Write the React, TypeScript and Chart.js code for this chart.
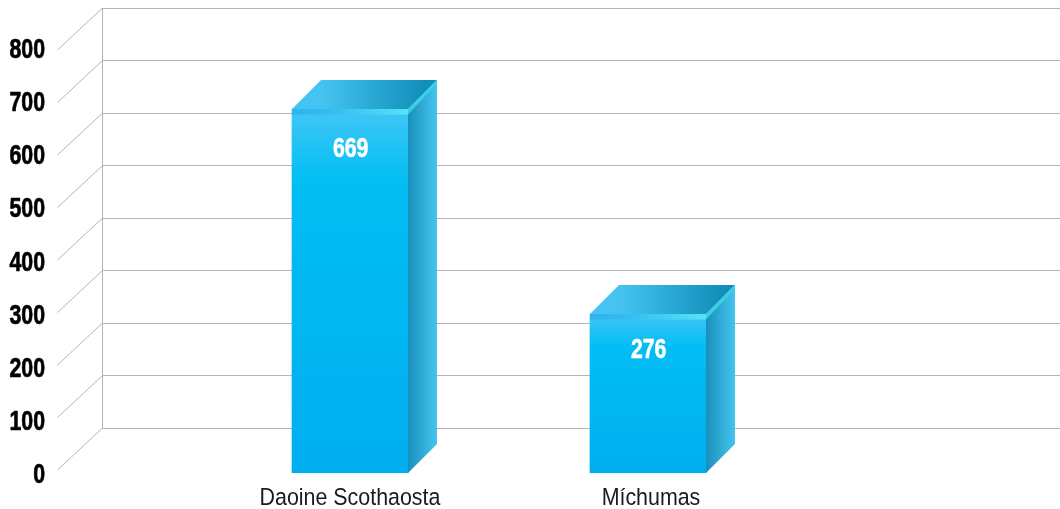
import React, { useEffect, useRef } from "react";
import { Chart, registerables } from "chart.js";

Chart.register(...registerables);

const categories = ["Daoine Scothaosta", "Míchumas"];
const values = [669, 276];
const tickValues = [0, 100, 200, 300, 400, 500, 600, 700, 800];
const labelOffsets = [37.7, 33.7];
const categoryTickPositions = [0, 1.01];
const barBaseValue = -28.76;
const depthX = 29;
const depthY = 29;
const wallX = 45;
const wallY = 42;
const stripHeight = 5.5;
const FONT = "'Liberation Sans'";

const hGrad = (ctx: CanvasRenderingContext2D, x0: number, x1: number, stops: [number, string][]) => {
  const g = ctx.createLinearGradient(x0, 0, x1, 0);
  stops.forEach(([o, c]) => g.addColorStop(o, c));
  return g;
};

// Condensed text: the reference face is narrow, and no narrow family is installed.
const narrowText = (
  ctx: CanvasRenderingContext2D,
  text: string,
  x: number,
  y: number,
  font: string,
  sx: number,
  align: CanvasTextAlign,
  color: string,
  heavy = 0
) => {
  ctx.save();
  ctx.translate(x, y);
  ctx.scale(sx, 1);
  ctx.font = font;
  ctx.textAlign = align;
  ctx.textBaseline = "alphabetic";
  ctx.fillStyle = color;
  if (heavy > 0) {
    ctx.strokeStyle = color;
    ctx.lineWidth = heavy;
    ctx.lineJoin = "round";
    ctx.strokeText(text, 0, 0);
  }
  ctx.fillText(text, 0, 0);
  ctx.restore();
};

const decorPlugin = {
  id: "decor",
  beforeDatasetsDraw(chart: any) {
    const { ctx, scales } = chart;
    const back = scales.yBack;
    const left = chart.chartArea.left;
    ctx.save();
    ctx.strokeStyle = "#b4b4b4";
    ctx.lineWidth = 1;
    ctx.beginPath();
    ctx.moveTo(left + 0.5, back.getPixelForValue(800));
    ctx.lineTo(left + 0.5, back.getPixelForValue(0));
    ctx.stroke();
    tickValues.forEach((v) => {
      const y = back.getPixelForValue(v);
      ctx.beginPath();
      ctx.moveTo(left + 0.5, y);
      ctx.lineTo(left + 0.5 - wallX, y + wallY);
      ctx.stroke();
    });
    ctx.restore();
    // Axis labels, positioned by the library's own scales
    scales.y.ticks.forEach((t: any) => {
      narrowText(ctx, String(t.value), 45, scales.y.getPixelForValue(t.value) + 10, `bold 27.5px ${FONT}`, 0.775, "right", "#000000", 0.7);
    });
    scales.x.ticks.forEach((t: any, i: number) => {
      narrowText(ctx, categories[i], scales.x.getPixelForValue(t.value), 505, `24.5px ${FONT}`, 0.873, "center", "#1a1a1a");
    });
  },
  afterDatasetsDraw(chart: any) {
    const { ctx } = chart;
    const meta = chart.getDatasetMeta(0);
    meta.data.forEach((bar: any, i: number) => {
      const l = bar.x - bar.width / 2;
      const r = bar.x + bar.width / 2;
      const t = bar.y;
      const b = bar.base;
      ctx.save();
      // top face
      ctx.fillStyle = hGrad(ctx, l + 30, r + depthX, [
        [0, "#45c4f1"],
        [0.85, "#1390bc"],
        [1, "#0f8db9"],
      ]);
      ctx.beginPath();
      ctx.moveTo(l, t);
      ctx.lineTo(l + depthX, t - depthY);
      ctx.lineTo(r + depthX, t - depthY);
      ctx.lineTo(r, t);
      ctx.closePath();
      ctx.fill();
      // side face
      ctx.fillStyle = hGrad(ctx, r, r + depthX, [
        [0, "#1990bb"],
        [1, "#45c4f0"],
      ]);
      ctx.beginPath();
      ctx.moveTo(r, t);
      ctx.lineTo(r + depthX, t - depthY);
      ctx.lineTo(r + depthX, b - depthY);
      ctx.lineTo(r, b);
      ctx.closePath();
      ctx.fill();
      // top-right edge highlight
      ctx.fillStyle = "#38cfe4";
      ctx.beginPath();
      ctx.moveTo(r, t);
      ctx.lineTo(r + depthX, t - depthY);
      ctx.lineTo(r + depthX, t - depthY + 4);
      ctx.lineTo(r, t + stripHeight);
      ctx.closePath();
      ctx.fill();
      // front strip
      ctx.fillStyle = hGrad(ctx, l, r, [
        [0, "#2fb2ee"],
        [0.35, "#35bdf0"],
        [1, "#55e3f8"],
      ]);
      ctx.fillRect(l, t, r - l, stripHeight);
      // value label
      narrowText(ctx, String(values[i]), bar.x + 0.7, t + labelOffsets[i] + 10, `bold 27.5px ${FONT}`, 0.775, "center", "#ffffff", 0.5);
      ctx.restore();
    });
  },
};

export default function App() {
  const ref = useRef<HTMLCanvasElement>(null);
  useEffect(() => {
    const canvas = ref.current!;
    const chart = new Chart(canvas, {
      type: "bar",
      data: {
        datasets: [
          {
            data: values.map((v, i) => ({ x: i, y: v })),
            yAxisID: "yBar",
            base: barBaseValue,
            barThickness: 116,
            borderWidth: 0,
            backgroundColor: (c: any) => {
              const ch = c.chart;
              if (!ch.chartArea || c.dataIndex === undefined) return "#00aeef";
              const s = ch.scales.yBar;
              const top = s.getPixelForValue(values[c.dataIndex]);
              const bot = s.getPixelForValue(barBaseValue);
              const g = ch.ctx.createLinearGradient(0, top, 0, bot);
              g.addColorStop(0, "#41c7f6");
              g.addColorStop(0.2, "#02bef3");
              g.addColorStop(1, "#00aeef");
              return g;
            },
          } as any,
        ],
      },
      plugins: [decorPlugin],
      options: {
        animation: false,
        responsive: false,
        maintainAspectRatio: false,
        layout: { padding: { top: 8, left: 0, right: 0, bottom: 0 } },
        plugins: { legend: { display: false }, tooltip: { enabled: false } },
        scales: {
          x: {
            type: "linear",
            min: -0.8322,
            max: 2.3826,
            offset: false,
            grid: { display: false, drawTicks: false },
            border: { display: false },
            afterBuildTicks: (a: any) => {
              a.ticks = categoryTickPositions.map((value) => ({ value }));
            },
            afterFit: (a: any) => {
              a.height = 36;
              a.paddingLeft = 0;
              a.paddingRight = 0;
            },
            ticks: { display: false },
          },
          y: {
            position: "left",
            min: 0,
            max: 875.3,
            grid: { display: false, drawTicks: false },
            border: { display: false },
            afterBuildTicks: (a: any) => {
              a.ticks = tickValues.map((value) => ({ value }));
            },
            afterFit: (a: any) => {
              a.width = 102;
              a.paddingTop = 0;
              a.paddingBottom = 0;
            },
            ticks: { display: false },
          },
          yBack: {
            position: "left",
            min: -85.714,
            max: 800,
            grid: { color: "#b4b4b4", lineWidth: 1, drawTicks: false },
            border: { display: false },
            afterBuildTicks: (a: any) => {
              a.ticks = tickValues.map((value) => ({ value }));
            },
            afterFit: (a: any) => {
              a.width = 0;
              a.paddingTop = 0;
              a.paddingBottom = 0;
            },
            ticks: { display: false },
          },
          yBar: {
            position: "left",
            display: false,
            min: barBaseValue,
            max: 862.7,
          },
        },
      } as any,
    });
    return () => chart.destroy();
  }, []);
  return (
    <canvas
      ref={ref}
      width={1060}
      height={509}
      style={{ position: "absolute", left: 0, top: 0, width: 1060, height: 509 }}
    />
  );
}
